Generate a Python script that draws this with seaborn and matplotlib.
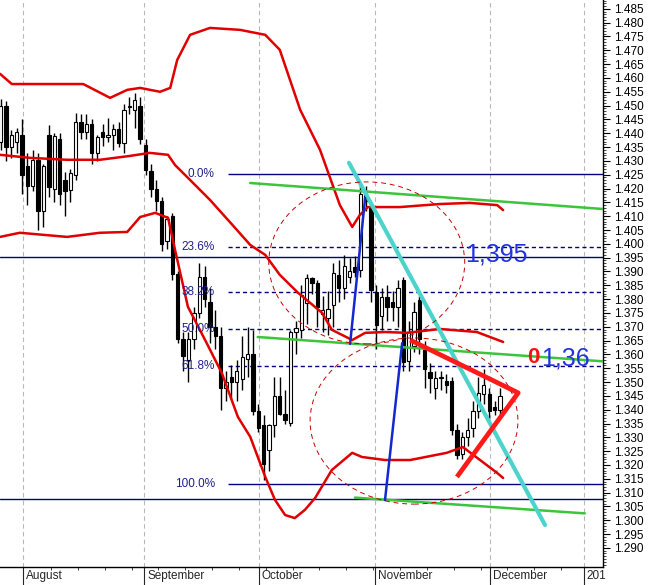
import numpy as np
import pandas as pd
import matplotlib
matplotlib.use("Agg")
import matplotlib.pyplot as plt
import matplotlib.transforms as mtransforms
from matplotlib.patches import Ellipse
from matplotlib.ticker import MultipleLocator, FormatStrFormatter
import seaborn as sns

# daily candles, bar 0 = first trading day of August
bar_idx = list(range(-4, 90))
opens = [1.4370, 1.4500, 1.4350, 1.4370, 1.4395, 1.4280, 1.4210, 1.4305, 1.4120, 1.4395,
         1.4200, 1.4380, 1.4230, 1.4195, 1.4250, 1.4440, 1.4405, 1.4435, 1.4330, 1.4405,
         1.4385, 1.4395, 1.4415, 1.4365, 1.4495, 1.4485, 1.4500, 1.4357, 1.4265, 1.4197,
         1.4154, 1.4010, 1.4100, 1.3890, 1.3656, 1.3580, 1.3656, 1.3750, 1.3880, 1.3790,
         1.3700, 1.3665, 1.3480, 1.3520, 1.3500, 1.3510, 1.3585, 1.3600, 1.3395, 1.3346,
         1.3254, 1.3343, 1.3450, 1.3385, 1.3353, 1.3680, 1.3690, 1.3787, 1.3876, 1.3858,
         1.3745, 1.3730, 1.3780, 1.3887, 1.3840, 1.3880, 1.3915, 1.3905, 1.4180, 1.4136,
         1.3826, 1.3738, 1.3809, 1.3790, 1.3773, 1.3869, 1.3577, 1.3630, 1.3798, 1.3620,
         1.3538, 1.3480, 1.3515, 1.3503, 1.3503, 1.3328, 1.3239, 1.3300, 1.3335, 1.3395,
         1.3455, 1.3455, 1.3410, 1.3400]
highs = [1.4525, 1.4515, 1.4410, 1.4420, 1.4450, 1.4330, 1.4340, 1.4330, 1.4290, 1.4430,
         1.4400, 1.4400, 1.4260, 1.4270, 1.4475, 1.4470, 1.4470, 1.4450, 1.4395, 1.4435,
         1.4455, 1.4435, 1.4440, 1.4505, 1.4530, 1.4545, 1.4530, 1.4380, 1.4290, 1.4230,
         1.4170, 1.4100, 1.4110, 1.3900, 1.3680, 1.3680, 1.3770, 1.3930, 1.3920, 1.3840,
         1.3760, 1.3700, 1.3540, 1.3560, 1.3580, 1.3666, 1.3698, 1.3690, 1.3420, 1.3380,
         1.3350, 1.3520, 1.3520, 1.3470, 1.3690, 1.3720, 1.3850, 1.3890, 1.3880, 1.3870,
         1.3810, 1.3830, 1.3930, 1.3940, 1.3960, 1.3950, 1.3955, 1.4220, 1.4210, 1.4150,
         1.3850, 1.3840, 1.3850, 1.3830, 1.3870, 1.3880, 1.3720, 1.3790, 1.3810, 1.3650,
         1.3570, 1.3540, 1.3540, 1.3530, 1.3520, 1.3350, 1.3320, 1.3370, 1.3430, 1.3520,
         1.3549, 1.3480, 1.3430, 1.3480]
lows = [1.4340, 1.4300, 1.4310, 1.4330, 1.4180, 1.4140, 1.4190, 1.4050, 1.4060, 1.4170,
        1.4150, 1.4140, 1.4100, 1.4150, 1.4230, 1.4380, 1.4380, 1.4290, 1.4300, 1.4355,
        1.4370, 1.4340, 1.4350, 1.4330, 1.4470, 1.4420, 1.4360, 1.4250, 1.4170, 1.4120,
        1.3975, 1.3980, 1.3870, 1.3640, 1.3540, 1.3500, 1.3620, 1.3730, 1.3770, 1.3640,
        1.3620, 1.3400, 1.3430, 1.3440, 1.3430, 1.3470, 1.3520, 1.3380, 1.3320, 1.3147,
        1.3180, 1.3300, 1.3380, 1.3350, 1.3340, 1.3600, 1.3660, 1.3710, 1.3820, 1.3700,
        1.3680, 1.3670, 1.3700, 1.3790, 1.3800, 1.3860, 1.3880, 1.3880, 1.4120, 1.3790,
        1.3620, 1.3690, 1.3720, 1.3720, 1.3700, 1.3540, 1.3540, 1.3610, 1.3600, 1.3480,
        1.3460, 1.3440, 1.3470, 1.3460, 1.3310, 1.3222, 1.3220, 1.3270, 1.3300, 1.3370,
        1.3420, 1.3370, 1.3380, 1.3380]
closes = [1.4500, 1.4350, 1.4395, 1.4405, 1.4250, 1.4210, 1.4305, 1.4120, 1.4280, 1.4207,
          1.4390, 1.4180, 1.4190, 1.4255, 1.4440, 1.4405, 1.4435, 1.4330, 1.4385, 1.4385,
          1.4395, 1.4415, 1.4365, 1.4485, 1.4500, 1.4520, 1.4380, 1.4268, 1.4197, 1.4154,
          1.4000, 1.4090, 1.3890, 1.3656, 1.3595, 1.3656, 1.3750, 1.3880, 1.3800, 1.3700,
          1.3665, 1.3478, 1.3500, 1.3500, 1.3540, 1.3590, 1.3600, 1.3395, 1.3335, 1.3204,
          1.3343, 1.3450, 1.3385, 1.3362, 1.3680, 1.3695, 1.3816, 1.3876, 1.3860, 1.3773,
          1.3762, 1.3765, 1.3894, 1.3840, 1.3920, 1.3900, 1.3897, 1.4180, 1.4154, 1.3834,
          1.3705, 1.3809, 1.3773, 1.3770, 1.3840, 1.3574, 1.3680, 1.3752, 1.3656, 1.3549,
          1.3513, 1.3513, 1.3520, 1.3488, 1.3328, 1.3235, 1.3300, 1.3328, 1.3396, 1.3460,
          1.3490, 1.3396, 1.3400, 1.3450]

month_names = ["August", "September", "October", "November", "December", "201"]
month_pos = [0.2, 22.8, 44.1, 65.8, 87.2, 104.6]

# envelope bands (bar index, price)
upper_x = [-4.1, -1.9, 3.4, 11.4, 16.4, 19.6, 22.0, 25.7, 27.6, 28.9, 31.3, 35.0, 40.6,
           45.3, 48.0, 51.8, 55.5, 59.2, 61.5, 62.9, 64.4, 70.4, 77.8, 83.4, 88.5, 89.6]
upper_y = [1.4615, 1.4578, 1.4578, 1.4578, 1.4528, 1.4557, 1.4564, 1.4550, 1.4564, 1.4665,
           1.4756, 1.4781, 1.4774, 1.4756, 1.4702, 1.4485, 1.4340, 1.4140, 1.4061, 1.4104,
           1.4133, 1.4133, 1.4144, 1.4148, 1.4140, 1.4122]
mid_x = [-4.1, 1.5, 8.4, 14.5, 20.1, 23.8, 27.2, 28.5, 31.3, 35.0, 38.7, 42.5, 45.3, 48.0,
         51.4, 55.9, 57.7, 61.5, 63.9, 67.6, 71.7, 77.8, 84.7, 89.6]
mid_y = [1.4322, 1.4311, 1.4304, 1.4304, 1.4318, 1.4329, 1.4322, 1.4285, 1.4231, 1.4159,
         1.4079, 1.3996, 1.3960, 1.3888, 1.3823, 1.3750, 1.3689, 1.3652, 1.3678, 1.3681,
         1.3678, 1.3692, 1.3681, 1.3645]
lower_x = [-4.1, -0.4, 8.4, 14.5, 19.6, 22.0, 24.8, 27.2, 28.5, 30.9, 34.1, 37.2, 40.2,
           42.5, 45.3, 47.1, 49.0, 50.8, 52.7, 54.6, 57.7, 61.5, 63.3, 67.6, 72.3, 79.1,
           82.1, 85.3, 88.5, 89.6]
lower_y = [1.4025, 1.4040, 1.4025, 1.4040, 1.4043, 1.4097, 1.4112, 1.4094, 1.3978, 1.3772,
           1.3652, 1.3533, 1.3374, 1.3302, 1.3157, 1.3074, 1.3019, 1.3008, 1.3038, 1.3081,
           1.3182, 1.3244, 1.3229, 1.3218, 1.3218, 1.3244, 1.3265, 1.3218, 1.3171, 1.3153]

# fibonacci retracement
fib_hi, fib_lo = 1.4252, 1.3132
fib_ratios = [0.0, 0.236, 0.382, 0.5, 0.618, 1.0]
fib_labels = ["0.0%", "23.6%", "38.2%", "50.0%", "61.8%", "100.0%"]

# hand drawn lines: (x0, x1), (y0, y1)
level_lines = [1.3953, 1.3077]
green_lines = [((42.5, 108.2), (1.4220, 1.4126)),
               ((43.9, 108.2), (1.3663, 1.3575)),
               ((62.0, 104.8), (1.3082, 1.3025))]
cyan_line = ((60.9, 97.4), (1.4293, 1.2983))
blue_lines = [((61.1, 63.9), (1.3638, 1.4166)),
              ((67.6, 70.8), (1.3073, 1.3641))]
red_wedge_x = [72.3, 92.4, 81.0]
red_wedge_y = [1.3652, 1.3461, 1.3157]
ellipses = [((64.2, 1.3931), 36.5, 0.0586), ((73.0, 1.3359), 38.7, 0.0601)]

sns.set_style("white")
plt.rcParams["font.family"] = ["Liberation Sans", "DejaVu Sans"]

fig = plt.figure(figsize=(6.52, 5.85), dpi=100)
ax = fig.add_axes([0, 18 / 585, 603 / 652, 567 / 585])

df = pd.DataFrame({"i": bar_idx, "open": opens, "high": highs, "low": lows, "close": closes})
rising = df["close"] >= df["open"]

# month separators
for p in month_pos:
    ax.axvline(p, color="#b8b8b8", lw=0.8, ls=(0, (4, 3)), zorder=0)

# candles
ax.vlines(df["i"], df["low"], df["high"], color="black", lw=1, zorder=3)
body = (df["close"] - df["open"]).abs().clip(lower=0.0003)
ax.bar(df["i"], body, bottom=df[["open", "close"]].min(axis=1), width=0.62,
       color=np.where(rising, "white", "black"), edgecolor="black", lw=0.8, zorder=4)

# bands
for bx, by in [(upper_x, upper_y), (mid_x, mid_y), (lower_x, lower_y)]:
    sns.lineplot(x=bx, y=by, ax=ax, color="#e00000", lw=1.8, sort=False,
                 estimator=None, zorder=5, solid_joinstyle="round")

# fibonacci levels
for r, lab in zip(fib_ratios, fib_labels):
    lvl = fib_hi - r * (fib_hi - fib_lo)
    ls = "-" if r in (0.0, 1.0) else (0, (3, 2.2))
    ax.hlines(lvl, 38.4, 108.2, color="#000080", lw=1, ls=ls, zorder=2)
    ax.text(35.9, lvl, lab, ha="right", va="center", color="#20208c", fontsize=8.5, zorder=6)

for lvl in level_lines:
    ax.axhline(lvl, color="#000080", lw=1, zorder=2)

for (xs, ys) in green_lines:
    ax.plot(xs, ys, color="#3cc43c", lw=1.8, zorder=6)
ax.plot(*cyan_line, color="#4cd4cc", lw=3, zorder=6)
for (xs, ys) in blue_lines:
    ax.plot(xs, ys, color="#1428d0", lw=1.8, zorder=6)
ax.plot(red_wedge_x, red_wedge_y, color="#ff1a1a", lw=3.4, zorder=7,
        solid_capstyle="butt")

for (c, w, h) in ellipses:
    ax.add_patch(Ellipse(c, w, h, fill=False, ec="#c80000", lw=0.7,
                         ls=(0, (5, 4)), zorder=6))

ax.text(88.3, 1.3960, "1,395", ha="center", va="center", color="#2233dd", fontsize=18, zorder=8)
ax.text(96.6, 1.3587, "1,36", ha="left", va="center", color="#2233dd", fontsize=18, zorder=8)
ax.text(95.3, 1.3590, "0", ha="center", va="center", color="#ff1010", fontsize=16,
        fontweight="bold", zorder=9)

# axes
ax.set_xlim(-4.1, 108.2)
ax.set_ylim(1.2831, 1.4882)
for s in ["left", "top"]:
    ax.spines[s].set_visible(False)
for s in ["right", "bottom"]:
    ax.spines[s].set_color("black")
    ax.spines[s].set_linewidth(1)

ax.yaxis.tick_right()
ax.set_yticks(np.arange(1.290, 1.4851, 0.005))
ax.yaxis.set_major_formatter(FormatStrFormatter("%.3f"))
ax.yaxis.set_minor_locator(MultipleLocator(0.001))
ax.tick_params(axis="y", which="major", length=5, width=0.8, labelsize=8.5, pad=3, colors="black")
ax.tick_params(axis="y", which="minor", length=2.5, width=0.6, right=True)

ax.set_xticks(month_pos, month_names)
ax.set_xticks(np.arange(5, 105, 5) + 0.4, minor=True)
ax.tick_params(axis="x", which="major", length=13, width=0.8, labelsize=8.5, pad=-10.5,
               bottom=True)
ax.tick_params(axis="x", which="minor", length=2.2, width=0.6, bottom=True)
shift = mtransforms.ScaledTranslation(2 / 72, 0, fig.dpi_scale_trans)
for lbl in ax.get_xticklabels():
    lbl.set_horizontalalignment("left")
    lbl.set_transform(lbl.get_transform() + shift)

ax.set_xlabel("")
ax.set_ylabel("")
ax.grid(False)

fig.savefig("out.png", dpi=100)
